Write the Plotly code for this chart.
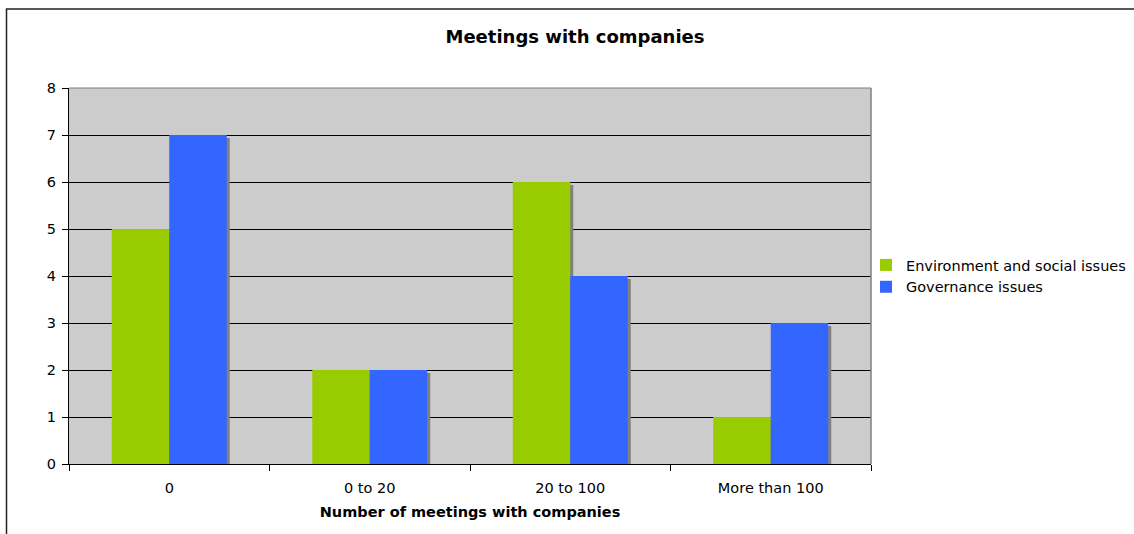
import plotly.graph_objects as go

# Survey data: number of respondents by meeting-count bracket
categories = ["0", "0 to 20", "20 to 100", "More than 100"]
env_social = [5, 2, 6, 1]
governance = [7, 2, 4, 3]
series_names = ["Environment and social issues", "Governance issues"]
y_ticks = [0, 1, 2, 3, 4, 5, 6, 7, 8]

GREEN = "#99CC00"
BLUE = "#3366FF"
SHADOW = "#808080"
FONT = "DejaVu Sans"
FS = 14.5

W, H = 1134, 534
ML, MR, MT, MB = 69, 263, 88, 70
plot_w = W - ML - MR
plot_h = H - MT - MB

bar_w = 57.5 / (plot_w / len(categories))      # bar width in category units
sx = 3 / (plot_w / len(categories))            # shadow shift, x (category units)
sy = 3 / (plot_h / (y_ticks[-1] - y_ticks[0]))  # shadow shift, y (value units)

fig = go.Figure()

# drop shadows behind the bars
for vals, off in ((env_social, -bar_w), (governance, 0.0)):
    fig.add_trace(go.Bar(
        x=categories, y=vals, base=[-sy] * len(vals),
        width=bar_w, offset=off + sx,
        marker=dict(color=SHADOW, line=dict(width=0)),
        showlegend=False, hoverinfo="skip",
    ))

for vals, name, color, off in ((env_social, series_names[0], GREEN, -bar_w),
                               (governance, series_names[1], BLUE, 0.0)):
    fig.add_trace(go.Bar(
        x=categories, y=vals, name=name,
        width=bar_w, offset=off,
        marker=dict(color=color, line=dict(width=0)),
    ))

# outer chart frame
fig.add_shape(
    type="rect", xref="paper", yref="paper",
    x0=(6.5 - ML) / plot_w, x1=(W + 20 - ML) / plot_w,
    y0=-(MB + 20) / plot_h, y1=(H - MB - 9) / plot_h,
    line=dict(color="#222222", width=1.5), fillcolor="rgba(0,0,0,0)", layer="below",
)

fig.update_layout(
    width=W, height=H,
    margin=dict(l=ML, r=MR, t=MT, b=MB, autoexpand=False),
    paper_bgcolor="white",
    plot_bgcolor="#CCCCCC",
    barmode="overlay",
    font=dict(family=FONT, size=FS, color="black"),
    title=dict(
        text="<b>Meetings with companies</b>",
        x=(575 - ML) / plot_w, xref="paper", xanchor="center",
        y=1 - 37 / H, yref="container", yanchor="middle",
        font=dict(family=FONT, size=18, color="black"),
    ),
    legend=dict(
        x=(866 - ML) / plot_w, xanchor="left",
        y=(H - MB - 276) / plot_h, yanchor="middle",
        font=dict(family=FONT, size=FS, color="black"),
        bgcolor="rgba(0,0,0,0)", itemwidth=30,
        tracegroupgap=0,
    ),
    showlegend=True,
    xaxis=dict(
        type="category",
        categoryorder="array", categoryarray=categories,
        tickson="boundaries", ticks="outside", ticklen=6, tickcolor="black",
        showline=True, linecolor="black", linewidth=1,
        mirror=False, showgrid=False, zeroline=False,
        ticklabelstandoff=11,
        tickfont=dict(family=FONT, size=FS, color="black"),
        title=dict(text="<b>Number of meetings with companies</b>",
                   font=dict(family=FONT, size=FS, color="black"), standoff=11),
        range=[-0.5, len(categories) - 0.5],
    ),
    yaxis=dict(
        range=[y_ticks[0], y_ticks[-1]],
        tickvals=y_ticks, ticks="outside", ticklen=6, tickcolor="black",
        showline=True, linecolor="black", linewidth=1,
        showgrid=True, gridcolor="black", gridwidth=1,
        zeroline=False, ticklabelstandoff=3,
        tickfont=dict(family=FONT, size=FS, color="black"),
    ),
)

# grey right/top edge of the plot area
fig.add_shape(type="line", xref="paper", yref="paper", x0=1, x1=1, y0=0, y1=1,
              line=dict(color="#808080", width=1.5))
fig.add_shape(type="line", xref="paper", yref="paper", x0=0, x1=1, y0=1, y1=1,
              line=dict(color="#808080", width=1))

fig.write_html("out.html")
